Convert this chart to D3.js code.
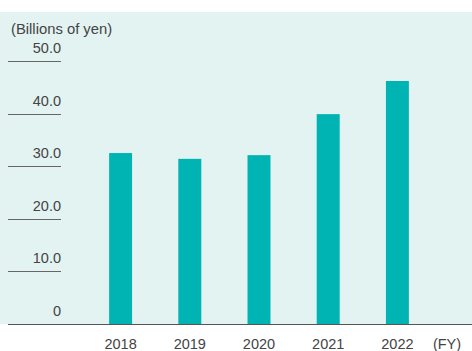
<!DOCTYPE html>
<html>
<head>
<meta charset="utf-8">
<script src="https://cdn.jsdelivr.net/npm/d3@7"></script>
<style>
  body { margin: 0; background: #fff; }
  text { font-family: "Liberation Sans", Arial, sans-serif; fill: #444; }
</style>
</head>
<body>
<div id="chart"></div>
<script>
// --- Data ---
const years = ["2018", "2019", "2020", "2021", "2022"];
const values = [32.5, 31.4, 32.1, 39.9, 46.2];
const tickValues = [0, 10, 20, 30, 40, 50];
const unitLabel = "(Billions of yen)";
const fyLabel = "(FY)";

const width = 472;
const height = 351;

const svg = d3.select("#chart").append("svg")
    .attr("width", width)
    .attr("height", height);

// Background panel
svg.append("rect")
    .attr("x", 0)
    .attr("y", 12)
    .attr("width", width)
    .attr("height", 312)
    .attr("fill", "#e3f3f2");

const x = d3.scaleBand()
    .domain(years)
    .range([86, 432])
    .paddingInner(0.668)
    .paddingOuter(0.334);

const y = d3.scaleLinear()
    .domain([0, 50])
    .range([324, 61]);

// Gridline stubs + labels on the left
const ticks = svg.append("g");
ticks.selectAll("line")
    .data(tickValues.filter(d => d > 0))
    .join("line")
    .attr("x1", 8)
    .attr("x2", 61)
    .attr("y1", d => Math.round(y(d)) + 0.5)
    .attr("y2", d => Math.round(y(d)) + 0.5)
    .attr("stroke", "#666")
    .attr("stroke-width", 1);

ticks.selectAll("text")
    .data(tickValues)
    .join("text")
    .attr("x", 61)
    .attr("y", d => y(d) - 8)
    .attr("text-anchor", "end")
    .attr("font-size", 14.5)
    .text(d => d === 0 ? "0" : d3.format(".1f")(d));

svg.append("text")
    .attr("x", 11)
    .attr("y", 34)
    .attr("font-size", 14.8)
    .text(unitLabel);

// Bars
svg.append("g")
    .selectAll("rect")
    .data(values)
    .join("rect")
    .attr("x", (d, i) => x(years[i]))
    .attr("y", d => y(d))
    .attr("width", x.bandwidth())
    .attr("height", d => y(0) - y(d))
    .attr("fill", "#00b4b4");

// Baseline
svg.append("line")
    .attr("x1", 8)
    .attr("x2", width)
    .attr("y1", 324.5)
    .attr("y2", 324.5)
    .attr("stroke", "#555")
    .attr("stroke-width", 1);

// Year labels
svg.append("g")
    .selectAll("text")
    .data(years)
    .join("text")
    .attr("x", d => x(d) + x.bandwidth() / 2)
    .attr("y", 349)
    .attr("text-anchor", "middle")
    .attr("font-size", 14.5)
    .text(d => d);

svg.append("text")
    .attr("x", 447)
    .attr("y", 349)
    .attr("text-anchor", "middle")
    .attr("font-size", 14.5)
    .text(fyLabel);
</script>
</body>
</html>
